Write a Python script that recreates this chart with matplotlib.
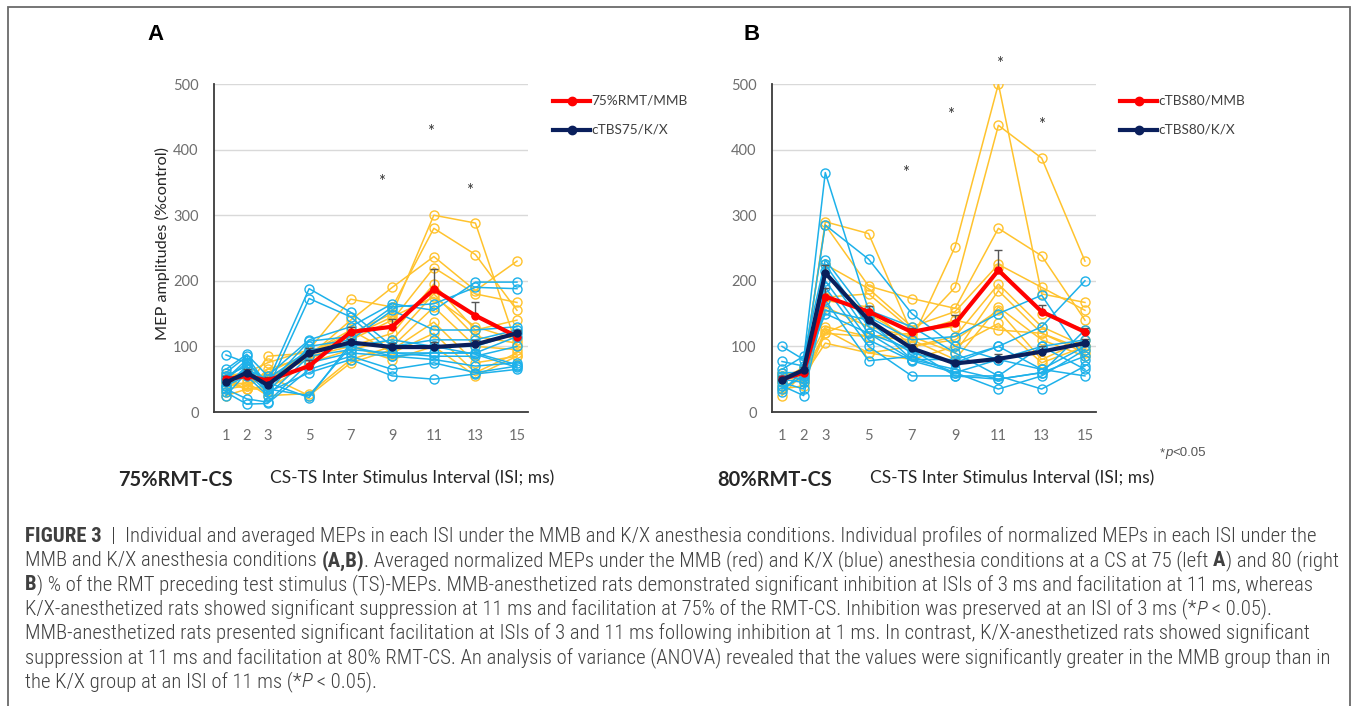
import matplotlib
matplotlib.use('Agg')
import matplotlib.pyplot as plt
from matplotlib.lines import Line2D
from matplotlib.patches import Rectangle
from matplotlib.font_manager import FontProperties, fontManager

# ---------------- data ----------------
isi = [1, 2, 3, 5, 7, 9, 11, 13, 15]

# Panel A (75% RMT-CS): individual MMB rats (yellow)
a_mmb_1 = [45, 35, 85, 90, 120, 150, 300, 288, 100]
a_mmb_2 = [55, 60, 75, 95, 172, 160, 280, 240, 155]
a_mmb_3 = [50, 35, 65, 85, 140, 190, 237, 185, 230]
a_mmb_4 = [35, 40, 55, 80, 110, 140, 220, 180, 167]
a_mmb_5 = [60, 50, 45, 95, 100, 120, 195, 125, 140]
a_mmb_6 = [25, 35, 35, 75, 95, 110, 180, 115, 105]
a_mmb_7 = [40, 45, 25, 28, 80, 100, 160, 100, 95]
a_mmb_8 = [55, 55, 55, 25, 75, 95, 137, 75, 85]
a_mmb_9 = [45, 35, 40, 90, 125, 90, 120, 60, 90]
a_mmb_10 = [30, 65, 50, 85, 100, 80, 100, 55, 85]
a_mmb_11 = [50, 40, 60, 90, 115, 145, 175, 130, 110]

# Panel A: individual K/X rats (blue)
a_kx_1 = [87, 75, 45, 188, 152, 100, 110, 110, 125]
a_kx_2 = [50, 80, 35, 173, 145, 90, 90, 90, 115]
a_kx_3 = [65, 88, 55, 110, 130, 165, 155, 198, 198]
a_kx_4 = [60, 85, 40, 108, 115, 160, 165, 190, 188]
a_kx_5 = [55, 70, 30, 100, 110, 155, 125, 125, 130]
a_kx_6 = [45, 65, 50, 95, 100, 110, 100, 100, 120]
a_kx_7 = [40, 55, 25, 85, 95, 90, 85, 85, 100]
a_kx_8 = [35, 20, 15, 75, 90, 85, 80, 70, 75]
a_kx_9 = [30, 12, 13, 65, 85, 65, 75, 60, 70]
a_kx_10 = [25, 60, 30, 60, 80, 55, 50, 58, 65]
a_kx_11 = [40, 70, 35, 25, 100, 85, 90, 90, 72]
a_kx_12 = [50, 75, 45, 22, 105, 100, 100, 88, 68]

# Panel A means and (upper) SE
a_mmb_mean = [50, 55, 48, 70, 122, 130, 187, 147, 115]
a_mmb_se = [5, 8, 6, 10, 8, 12, 31, 20, 8]
a_kx_mean = [45, 60, 41, 90, 106, 99, 99, 103, 120]
a_kx_se = [5, 6, 5, 8, 6, 6, 8, 6, 5]

# Panel B (80% RMT-CS): individual MMB rats (yellow)
b_mmb_1 = [50, 60, 120, 150, 110, 252, 500, 180, 167]
b_mmb_2 = [55, 65, 290, 272, 120, 190, 437, 387, 230]
b_mmb_3 = [45, 70, 285, 192, 173, 158, 280, 238, 140]
b_mmb_4 = [60, 55, 225, 188, 130, 153, 225, 190, 155]
b_mmb_5 = [35, 40, 175, 180, 125, 130, 220, 150, 125]
b_mmb_6 = [25, 60, 170, 160, 100, 115, 195, 130, 100]
b_mmb_7 = [50, 55, 160, 130, 115, 90, 185, 120, 90]
b_mmb_8 = [45, 65, 130, 115, 110, 80, 160, 110, 85]
b_mmb_9 = [40, 50, 125, 90, 100, 110, 155, 80, 110]
b_mmb_10 = [60, 55, 105, 90, 80, 100, 135, 75, 100]
b_mmb_11 = [55, 45, 120, 115, 120, 140, 125, 120, 95]

# Panel B: individual K/X rats (blue)
b_kx_1 = [100, 80, 365, 155, 130, 90, 55, 35, 70]
b_kx_2 = [77, 70, 285, 233, 150, 100, 80, 65, 100]
b_kx_3 = [65, 85, 232, 145, 110, 115, 150, 178, 80]
b_kx_4 = [60, 60, 225, 130, 90, 75, 100, 130, 200]
b_kx_5 = [55, 50, 215, 120, 80, 65, 50, 60, 125]
b_kx_6 = [50, 45, 200, 110, 78, 60, 35, 55, 95]
b_kx_7 = [45, 35, 190, 100, 55, 55, 55, 100, 110]
b_kx_8 = [40, 25, 170, 78, 85, 60, 80, 100, 65]
b_kx_9 = [35, 55, 155, 140, 80, 80, 100, 65, 55]
b_kx_10 = [30, 65, 150, 120, 95, 55, 50, 60, 85]

# Panel B means and (upper) SE
b_mmb_mean = [50, 60, 176, 153, 122, 135, 216, 153, 122]
b_mmb_se = [5, 6, 13, 8, 6, 13, 31, 10, 6]
b_kx_mean = [49, 64, 212, 140, 97, 74, 81, 92, 105]
b_kx_se = [5, 5, 12, 10, 7, 5, 8, 8, 6]

# significance marks (x position, y position in data units)
a_star_x = [8.5, 10.86, 12.7]
a_star_y = [358, 434, 344]
b_star_x = [6.7, 8.8, 11.05, 13.0]
b_star_y = [372, 460, 537, 445]

a_legend = ['75%RMT/MMB', 'cTBS75/K/X']
b_legend = ['cTBS80/MMB', 'cTBS80/K/X']
y_label = 'MEP amplitudes (%control)'
x_label = 'CS-TS Inter Stimulus Interval (ISI; ms)'
a_cond = '75%RMT-CS'
b_cond = '80%RMT-CS'

a_mmb = [a_mmb_1, a_mmb_2, a_mmb_3, a_mmb_4, a_mmb_5, a_mmb_6, a_mmb_7,
         a_mmb_8, a_mmb_9, a_mmb_10, a_mmb_11]
a_kx = [a_kx_1, a_kx_2, a_kx_3, a_kx_4, a_kx_5, a_kx_6, a_kx_7, a_kx_8,
        a_kx_9, a_kx_10, a_kx_11, a_kx_12]
b_mmb = [b_mmb_1, b_mmb_2, b_mmb_3, b_mmb_4, b_mmb_5, b_mmb_6, b_mmb_7,
         b_mmb_8, b_mmb_9, b_mmb_10, b_mmb_11]
b_kx = [b_kx_1, b_kx_2, b_kx_3, b_kx_4, b_kx_5, b_kx_6, b_kx_7, b_kx_8,
        b_kx_9, b_kx_10]

# ---------------- style ----------------
YEL = '#FFC32E'
BLU = '#1DB1EA'
RED = '#FF0000'
NAVY = '#0A1F5C'
GRID = '#D9D9D9'
TICK = '#6E6E6E'
DARK = '#262626'

avail = {f.name for f in fontManager.ttflist}
def pick(*names):
    for n in names:
        if n in avail:
            return n
    return 'DejaVu Sans'

CHART_FONT = pick('Lato', 'Open Sans', 'Liberation Sans')
ARIAL = pick('Liberation Sans', 'DejaVu Sans')
CAP_FONT = pick('Liberation Sans Narrow', 'Roboto Condensed', 'Roboto', 'Liberation Sans')

plt.rcParams['font.family'] = [CHART_FONT, 'DejaVu Sans']

W, H = 1354, 706
fig = plt.figure(figsize=(W / 100, H / 100), dpi=100)
fig.patch.set_facecolor('white')
renderer = fig.canvas.get_renderer()

def fx(px):
    return px / W

def fy(py):
    return 1 - py / H

def text_w(s, size, family, weight='normal', style='normal'):
    fp = FontProperties(family=family, size=size, weight=weight, style=style)
    w1 = renderer.get_text_width_height_descent('I' + s + 'I', fp, ismath=False)[0]
    w0 = renderer.get_text_width_height_descent('II', fp, ismath=False)[0]
    return w1 - w0

def fit_size(s, target_px, family, weight='normal'):
    return 10 * target_px / text_w(s, 10, family, weight)

# frame
fig.add_artist(Rectangle((fx(8), fy(712)), fx(1350) - fx(8), fy(7) - fy(712),
                         transform=fig.transFigure, fill=False,
                         edgecolor='#6a6a6a', lw=1.3, clip_on=False))

axA = fig.add_axes([fx(214), fy(412), (528 - 214) / W, (412 - 84) / H])
axB = fig.add_axes([fx(772), fy(412), (1096 - 772) / W, (412 - 84) / H])

def draw_panel(ax, mmb, kx, mmb_mean, mmb_se, kx_mean, kx_se, xlim, sx, sy):
    ax.set_xlim(*xlim)
    ax.set_ylim(0, 500)
    ax.set_xticks(isi)
    ax.set_yticks(range(0, 501, 100))
    ax.tick_params(length=0, labelsize=10.5, labelcolor=TICK)
    ax.tick_params(axis='y', pad=11)
    ax.tick_params(axis='x', pad=12)
    for s in ['top', 'right']:
        ax.spines[s].set_visible(False)
    for s in ['left', 'bottom']:
        ax.spines[s].set_color('#3a3a3a')
        ax.spines[s].set_linewidth(1.3)
    for v in range(100, 501, 100):
        ax.axhline(v, color=GRID, lw=1.0, zorder=0)
    for ys in mmb:
        ax.plot(isi, ys, color=YEL, lw=1.1, marker='o', ms=6.5, mfc='none',
                mec=YEL, mew=1.0, zorder=2)
    for ys in kx:
        ax.plot(isi, ys, color=BLU, lw=1.1, marker='o', ms=6.5, mfc='none',
                mec=BLU, mew=1.0, zorder=3)
    ax.errorbar(isi, mmb_mean, yerr=[[0] * len(isi), mmb_se], fmt='none',
                ecolor='#555555', elinewidth=1.0, capsize=3, capthick=1.0, zorder=4)
    ax.plot(isi, mmb_mean, color=RED, lw=3.0, marker='o', ms=5, zorder=5)
    ax.errorbar(isi, kx_mean, yerr=[[0] * len(isi), kx_se], fmt='none',
                ecolor='#555555', elinewidth=1.0, capsize=3, capthick=1.0, zorder=4)
    ax.plot(isi, kx_mean, color=NAVY, lw=3.0, marker='o', ms=5, zorder=6)
    for x, y in zip(sx, sy):
        ax.annotate('*', xy=(x, y), xytext=(0, -7), textcoords='offset points',
                    ha='center', va='baseline', fontsize=12, color='#333333',
                    annotation_clip=False)

draw_panel(axA, a_mmb, a_kx, a_mmb_mean, a_mmb_se, a_kx_mean, a_kx_se,
           (0.423, 15.53), a_star_x, a_star_y)
draw_panel(axB, b_mmb, b_kx, b_mmb_mean, b_mmb_se, b_kx_mean, b_kx_se,
           (0.538, 15.51), b_star_x, b_star_y)

# legends (drawn in figure pixels)
def legend_item(x0, x1, y, color, label):
    fig.add_artist(Line2D([fx(x0), fx(x1)], [fy(y), fy(y)], color=color, lw=3,
                          transform=fig.transFigure))
    fig.add_artist(Line2D([fx((x0 + x1) / 2)], [fy(y)], color=color, marker='o',
                          ms=6, transform=fig.transFigure))
    fig.text(fx(x1 + 1), fy(y), label, fontsize=9.8, color='#404040',
             ha='left', va='center')

legend_item(553, 590, 100.5, RED, a_legend[0])
legend_item(553, 590, 130, NAVY, a_legend[1])
legend_item(1120, 1157, 100.5, RED, b_legend[0])
legend_item(1120, 1157, 130, NAVY, b_legend[1])

# panel letters
fig.text(fx(155), fy(35), 'A', fontsize=16, fontweight='bold', family=ARIAL,
         ha='center', va='center', color='black')
fig.text(fx(752), fy(35), 'B', fontsize=16, fontweight='bold', family=ARIAL,
         ha='center', va='center', color='black')

# y label
ys_ = fit_size(y_label, 194, CHART_FONT)
fig.text(fx(162), fy(243), y_label, rotation=90, fontsize=ys_, color=DARK,
         ha='center', va='center')

# bottom labels
cs = fit_size(a_cond, 115, CHART_FONT, 'bold')
fig.text(fx(118), fy(480), a_cond, fontsize=cs, fontweight='bold', color=DARK,
         ha='left', va='center')
fig.text(fx(717), fy(480), b_cond, fontsize=cs, fontweight='bold', color=DARK,
         ha='left', va='center')
xs = fit_size(x_label, 283, CHART_FONT)
fig.text(fx(270), fy(478), x_label, fontsize=xs, color=DARK, ha='left', va='center')
fig.text(fx(870), fy(478), x_label, fontsize=xs, color=DARK, ha='left', va='center')

# *p<0.05 note
def segments(x0, ybase, segs, size, family, color):
    x = x0
    for s, weight, style in segs:
        fig.text(fx(x), fy(ybase), s, fontsize=size, fontweight=weight,
                 fontstyle=style, family=family, color=color,
                 ha='left', va='baseline')
        x += text_w(s, size, family, weight, style)

segments(1160, 456, [('*', 'normal', 'normal'), ('p', 'normal', 'italic'),
                     ('<0.05', 'normal', 'normal')], 9.5, ARIAL, '#555555')

# caption
N, B, I, L = 'normal', 'bold', 'italic', 'light'
caption = [
    [('FIGURE 3', B, N), ('  |  ', L, N),
     ('Individual and averaged MEPs in each ISI under the MMB and K/X anesthesia conditions. '
      'Individual profiles of normalized MEPs in each ISI under the', L, N)],
    [('MMB and K/X anesthesia conditions ', L, N), ('(A,B)', B, N),
     ('. Averaged normalized MEPs under the MMB (red) and K/X (blue) anesthesia conditions '
      'at a CS at 75 (left ', L, N), ('A', B, N), (') and 80 (right', L, N)],
    [('B', B, N), (') % of the RMT preceding test stimulus (TS)-MEPs. MMB-anesthetized rats '
                   'demonstrated significant inhibition at ISIs of 3 ms and facilitation at 11 ms, whereas', L, N)],
    [('K/X-anesthetized rats showed significant suppression at 11 ms and facilitation at 75% of '
      'the RMT-CS. Inhibition was preserved at an ISI of 3 ms (*', L, N), ('P', L, I),
     (' < 0.05).', L, N)],
    [('MMB-anesthetized rats presented significant facilitation at ISIs of 3 and 11 ms following '
      'inhibition at 1 ms. In contrast, K/X-anesthetized rats showed significant', L, N)],
    [('suppression at 11 ms and facilitation at 80% RMT-CS. An analysis of variance (ANOVA) '
      'revealed that the values were significantly greater in the MMB group than in', L, N)],
    [('the K/X group at an ISI of 11 ms (*', L, N), ('P', L, I), (' < 0.05).', L, N)],
]

def line_width(segs, size):
    return sum(text_w(s, size, CAP_FONT, w, st) for s, w, st in segs)

cap_size = 10 * 1290 / line_width(caption[0], 10)
for i, segs in enumerate(caption):
    segments(25, 542 + 24.2 * i, segs, cap_size, CAP_FONT, '#404040')

fig.savefig('out.png', dpi=100, facecolor='white')
